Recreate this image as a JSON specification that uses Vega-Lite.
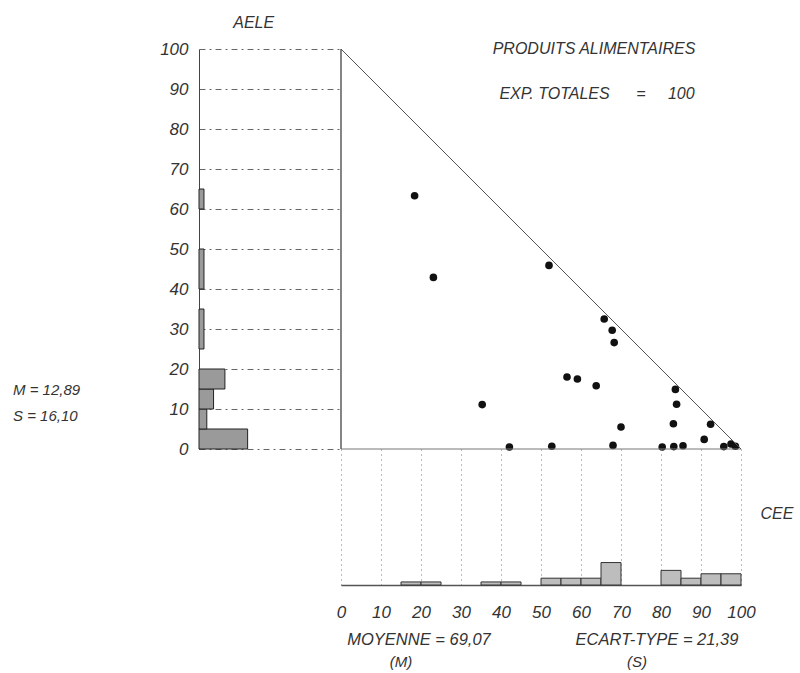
{
  "$schema": "https://vega.github.io/schema/vega-lite/v6.json",
  "background": "white",
  "padding": {"left": 12, "top": 15, "right": 5, "bottom": 3},
  "columns": 2,
  "spacing": 0,
  "bounds": "flush",
  "align": "each",
  "config": {
    "view": {"stroke": null},
    "font": "Liberation Sans",
    "text": {"font": "Liberation Sans", "fontStyle": "italic", "color": "#333", "fontSize": 16, "baseline": "middle"},
    "axis": {"labelFont": "Liberation Sans", "labelFontStyle": "italic", "labelColor": "#333", "labelFontSize": 17, "labelFlush": false, "labelOverlap": false, "ticks": false, "title": null, "tickCount": 30}
  },
  "datasets": {
    "points": [
      {"cee": 18.4, "aele": 63.3}, {"cee": 23.1, "aele": 42.9}, {"cee": 52.0, "aele": 45.9},
      {"cee": 65.8, "aele": 32.5}, {"cee": 67.8, "aele": 29.7}, {"cee": 68.3, "aele": 26.6},
      {"cee": 56.5, "aele": 18.0}, {"cee": 59.1, "aele": 17.5}, {"cee": 63.8, "aele": 15.8},
      {"cee": 35.3, "aele": 11.1}, {"cee": 70.0, "aele": 5.5}, {"cee": 42.1, "aele": 0.5},
      {"cee": 52.7, "aele": 0.7}, {"cee": 68.0, "aele": 0.9}, {"cee": 80.3, "aele": 0.5},
      {"cee": 83.2, "aele": 0.6}, {"cee": 85.5, "aele": 0.8}, {"cee": 83.6, "aele": 14.9},
      {"cee": 83.9, "aele": 11.2}, {"cee": 83.1, "aele": 6.3}, {"cee": 92.4, "aele": 6.2},
      {"cee": 90.8, "aele": 2.4}, {"cee": 95.7, "aele": 0.6}, {"cee": 97.5, "aele": 1.25},
      {"cee": 98.6, "aele": 0.7}
    ],
    "aele": [
      {"lo": 0, "hi": 5, "w": 13.7}, {"lo": 5, "hi": 10, "w": 2.2}, {"lo": 10, "hi": 15, "w": 4.1},
      {"lo": 15, "hi": 20, "w": 7.3}, {"lo": 25, "hi": 35, "w": 1.4},
      {"lo": 40, "hi": 50, "w": 1.4}, {"lo": 60, "hi": 65, "w": 1.4}
    ],
    "cee": [
      {"lo": 15, "hi": 20, "h": 0.9}, {"lo": 20, "hi": 25, "h": 0.9}, {"lo": 35, "hi": 40, "h": 0.9},
      {"lo": 40, "hi": 45, "h": 0.9}, {"lo": 50, "hi": 55, "h": 2}, {"lo": 55, "hi": 60, "h": 2},
      {"lo": 60, "hi": 65, "h": 2}, {"lo": 65, "hi": 70, "h": 6.6}, {"lo": 80, "hi": 85, "h": 4.3},
      {"lo": 85, "hi": 90, "h": 2}, {"lo": 90, "hi": 95, "h": 3.3}, {"lo": 95, "hi": 100, "h": 3.3}
    ]
  },
  "concat": [
    {
      "width": 142,
      "height": 400,
      "layer": [
        {
          "data": {"name": "aele"},
          "mark": {"type": "rect", "fill": "#9a9a9a", "stroke": "#222", "strokeWidth": 1},
          "encoding": {
            "y": {"field": "lo", "type": "quantitative", "scale": {"domain": [0, 100], "nice": false},
              "axis": {"values": [0, 10, 20, 30, 40, 50, 60, 70, 80, 90, 100], "tickCount": 30, "grid": true, "gridDash": [6, 4, 2, 4], "gridColor": "#666", "gridWidth": 1, "domain": true, "domainColor": "#444", "domainWidth": 1, "labelPadding": 11}},
            "y2": {"field": "hi"},
            "x": {"field": "w", "type": "quantitative", "scale": {"domain": [0, 40], "nice": false}, "axis": null},
            "x2": {"datum": 0}
          }
        },
        {
          "data": {"values": [{}]},
          "mark": {"type": "text", "text": "AELE", "align": "center"},
          "encoding": {"x": {"datum": 15.4, "axis": null}, "y": {"datum": 106.5,
            "axis": {"values": [0, 10, 20, 30, 40, 50, 60, 70, 80, 90, 100], "tickCount": 30, "grid": true, "gridDash": [6, 4, 2, 4], "gridColor": "#666", "gridWidth": 1, "domain": true, "domainColor": "#444", "domainWidth": 1, "labelPadding": 11}}}
        },
        {
          "data": {"values": [{}]},
          "mark": {"type": "text", "text": "M = 12,89", "align": "left", "fontSize": 15},
          "encoding": {"x": {"datum": -52.4, "axis": null}, "y": {"datum": 14.75,
            "axis": {"values": [0, 10, 20, 30, 40, 50, 60, 70, 80, 90, 100], "tickCount": 30, "grid": true, "gridDash": [6, 4, 2, 4], "gridColor": "#666", "gridWidth": 1, "domain": true, "domainColor": "#444", "domainWidth": 1, "labelPadding": 11}}}
        },
        {
          "data": {"values": [{}]},
          "mark": {"type": "text", "text": "S = 16,10", "align": "left", "fontSize": 15},
          "encoding": {"x": {"datum": -52.4, "axis": null}, "y": {"datum": 8.25,
            "axis": {"values": [0, 10, 20, 30, 40, 50, 60, 70, 80, 90, 100], "tickCount": 30, "grid": true, "gridDash": [6, 4, 2, 4], "gridColor": "#666", "gridWidth": 1, "domain": true, "domainColor": "#444", "domainWidth": 1, "labelPadding": 11}}}
        }
      ]
    },
    {
      "width": 400,
      "height": 400,
      "layer": [
        {
          "data": {"name": "points"},
          "mark": {"type": "circle", "color": "#111", "opacity": 1, "size": 58},
          "encoding": {
            "x": {"field": "cee", "type": "quantitative", "scale": {"domain": [0, 100], "nice": false}, "axis": null},
            "y": {"field": "aele", "type": "quantitative", "scale": {"domain": [0, 100], "nice": false}, "axis": null}
          }
        },
        {
          "data": {"values": [{}]},
          "mark": {"type": "rule", "color": "#333", "strokeWidth": 1.2},
          "encoding": {"x": {"datum": 0, "axis": null}, "y": {"datum": 0, "axis": null}, "y2": {"datum": 100}}
        },
        {
          "data": {"values": [{}]},
          "mark": {"type": "rule", "color": "#777", "strokeWidth": 1},
          "encoding": {"x": {"datum": 0, "axis": null}, "x2": {"datum": 100}, "y": {"datum": 0, "axis": null}}
        },
        {
          "data": {"values": [{}]},
          "mark": {"type": "rule", "color": "#555", "strokeWidth": 1},
          "encoding": {"x": {"datum": 0, "axis": null}, "y": {"datum": 100, "axis": null}, "x2": {"datum": 100}, "y2": {"datum": 0}}
        },
        {
          "data": {"values": [{}]},
          "mark": {"type": "text", "text": "PRODUITS ALIMENTAIRES", "align": "center"},
          "encoding": {"x": {"datum": 63.25, "axis": null}, "y": {"datum": 100, "axis": null}}
        },
        {
          "data": {"values": [{}]},
          "mark": {"type": "text", "text": "EXP. TOTALES\u00a0\u00a0\u00a0\u00a0\u00a0\u00a0=\u00a0\u00a0\u00a0\u00a0\u00a0100", "align": "center"},
          "encoding": {"x": {"datum": 64, "axis": null}, "y": {"datum": 88.75, "axis": null}}
        }
      ]
    },
    {
      "width": 142,
      "height": 136,
      "data": {"values": [{}]},
      "mark": {"type": "text", "text": ""},
      "encoding": {}
    },
    {
      "width": 400,
      "height": 136,
      "layer": [
        {
          "data": {"name": "cee"},
          "mark": {"type": "rect", "fill": "#bdbdbd", "stroke": "#333", "strokeWidth": 1},
          "encoding": {
            "x": {"field": "lo", "type": "quantitative", "scale": {"domain": [0, 100], "nice": false},
              "axis": {"values": [0, 10, 20, 30, 40, 50, 60, 70, 80, 90, 100], "tickCount": 30, "grid": true, "gridDash": [1, 4], "gridColor": "#777", "gridWidth": 1, "domain": true, "domainColor": "#555", "domainWidth": 1.5, "labelPadding": 19}},
            "x2": {"field": "hi"},
            "y": {"field": "h", "type": "quantitative", "scale": {"domain": [0, 40], "nice": false}, "axis": null},
            "y2": {"datum": 0}
          }
        },
        {
          "data": {"values": [{}]},
          "mark": {"type": "text", "text": "CEE", "align": "center"},
          "encoding": {"x": {"datum": 109,
            "axis": {"values": [0, 10, 20, 30, 40, 50, 60, 70, 80, 90, 100], "tickCount": 30, "grid": true, "gridDash": [1, 4], "gridColor": "#777", "gridWidth": 1, "domain": true, "domainColor": "#555", "domainWidth": 1.5, "labelPadding": 19}},
            "y": {"datum": 20.9, "axis": null}}
        },
        {
          "data": {"values": [{}]},
          "mark": {"type": "text", "text": "MOYENNE = 69,07", "align": "center", "fontSize": 16.5},
          "encoding": {"x": {"datum": 19.5,
            "axis": {"values": [0, 10, 20, 30, 40, 50, 60, 70, 80, 90, 100], "tickCount": 30, "grid": true, "gridDash": [1, 4], "gridColor": "#777", "gridWidth": 1, "domain": true, "domainColor": "#555", "domainWidth": 1.5, "labelPadding": 19}},
            "y": {"datum": -16.2, "axis": null}}
        },
        {
          "data": {"values": [{}]},
          "mark": {"type": "text", "text": "(M)", "align": "center", "fontSize": 15},
          "encoding": {"x": {"datum": 15,
            "axis": {"values": [0, 10, 20, 30, 40, 50, 60, 70, 80, 90, 100], "tickCount": 30, "grid": true, "gridDash": [1, 4], "gridColor": "#777", "gridWidth": 1, "domain": true, "domainColor": "#555", "domainWidth": 1.5, "labelPadding": 19}},
            "y": {"datum": -22.5, "axis": null}}
        },
        {
          "data": {"values": [{}]},
          "mark": {"type": "text", "text": "ECART-TYPE = 21,39", "align": "center", "fontSize": 16.5},
          "encoding": {"x": {"datum": 79,
            "axis": {"values": [0, 10, 20, 30, 40, 50, 60, 70, 80, 90, 100], "tickCount": 30, "grid": true, "gridDash": [1, 4], "gridColor": "#777", "gridWidth": 1, "domain": true, "domainColor": "#555", "domainWidth": 1.5, "labelPadding": 19}},
            "y": {"datum": -16.2, "axis": null}}
        },
        {
          "data": {"values": [{}]},
          "mark": {"type": "text", "text": "(S)", "align": "center", "fontSize": 15},
          "encoding": {"x": {"datum": 74,
            "axis": {"values": [0, 10, 20, 30, 40, 50, 60, 70, 80, 90, 100], "tickCount": 30, "grid": true, "gridDash": [1, 4], "gridColor": "#777", "gridWidth": 1, "domain": true, "domainColor": "#555", "domainWidth": 1.5, "labelPadding": 19}},
            "y": {"datum": -22.5, "axis": null}}
        }
      ]
    }
  ]
}
